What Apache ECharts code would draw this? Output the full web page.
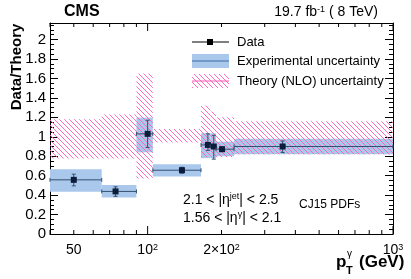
<!DOCTYPE html>
<html><head><meta charset="utf-8">
<script src="https://cdn.jsdelivr.net/npm/echarts@6/dist/echarts.min.js"></script>
<style>html,body{margin:0;padding:0;background:#fff}#c{width:411px;height:279px}</style>
</head><body><div id="c"></div>
<script>
// ---- data ----
const binLow  = [40, 65, 90, 105, 165, 180, 190, 225];
const binHigh = [65, 90, 105, 165, 180, 190, 225, 1000];
const ptX     = [50, 74, 100, 138, 176, 186, 201, 355];
const ratio   = [0.557, 0.438, 1.03, 0.656, 0.916, 0.90, 0.872, 0.90];
const errLow  = [0.495, 0.387, 0.89, 0.626, 0.86, 0.77, 0.85, 0.838];
const errHigh = [0.615, 0.485, 1.17, 0.686, 1.03, 1.015, 0.895, 0.957];
const expLow  = [0.434, 0.376, 0.84, 0.592, 0.78, 0.78, 0.80, 0.82];
const expHigh = [0.667, 0.503, 1.197, 0.718, 1.035, 1.035, 0.95, 0.98];
const thLow   = [0.776, 0.776, 0.57, 0.94, 0.79, 0.79, 0.79, 0.82];
const thHigh  = [1.18, 1.23, 1.65, 1.08, 1.32, 1.26, 1.20, 1.16];
const xTickMajor = [100, 1000];
const xTickMinor = [40, 50, 60, 70, 80, 90, 200, 300, 400, 500, 600, 700, 800, 900];
const xLabelVals = [50, 100, 200, 1000];
const xLabelText = ['50', '10{s|2}', '2×10{s|2}', '10{s|3}'];
const yMin = 0, yMax = 2.17, yStep = 0.2;

// ---- style ----
const FONT = '"Liberation Sans", Arial, Helvetica, sans-serif';
const BLUE = '#aac8ec';
const PINK = '#ff5cb2';
const DARK = '#0c1d3b';
const ELINE = '#33506f';

function hatchCanvas() {
  const c = document.createElement('canvas');
  c.width = 5; c.height = 5;
  const g = c.getContext('2d');
  g.strokeStyle = PINK; g.lineWidth = 0.9;
  g.beginPath();
  g.moveTo(-1, -1); g.lineTo(6, 6);
  g.moveTo(-1, 4); g.lineTo(1, 6);
  g.moveTo(4, -1); g.lineTo(6, 1);
  g.stroke();
  return c;
}
const hatch = hatchCanvas();

const chart = echarts.init(document.getElementById('c'), null, {renderer: 'canvas'});

const bandData = (lo, hi) => binLow.map((l, i) => [l, binHigh[i], lo[i], hi[i]]);

function rectItem(fill) {
  return function (params, api) {
    const a = api.coord([api.value(0), api.value(3)]);
    const b = api.coord([api.value(1), api.value(2)]);
    return {type: 'rect', shape: {x: a[0], y: a[1], width: b[0] - a[0], height: b[1] - a[1]},
      style: {fill: fill}};
  };
}

const yLabelFmt = v => {
  const k = v / yStep;
  return Math.abs(k - Math.round(k)) < 1e-6 ? String(+v.toFixed(2)) : '';
};

const option = {
  animation: false,
  grid: {left: 50, right: 18, top: 23, bottom: 45, show: false},
  xAxis: [
    {type: 'log', logBase: 10, min: 40, max: 1000, position: 'bottom',
     axisLine: {show: true, onZero: false, lineStyle: {color: '#000', width: 1}},
     axisTick: {show: false}, axisLabel: {show: false}, splitLine: {show: false}, minorTick: {show: false}},
    {type: 'log', logBase: 10, min: 40, max: 1000, position: 'top',
     axisLine: {show: true, onZero: false, lineStyle: {color: '#000', width: 1}},
     axisTick: {show: false}, axisLabel: {show: false}, splitLine: {show: false}}
  ],
  yAxis: [
    {type: 'value', min: yMin, max: yMax, interval: yStep, position: 'left',
     axisLine: {show: true, lineStyle: {color: '#000', width: 1}},
     axisTick: {show: true, inside: true, length: 8, lineStyle: {color: '#000'}},
     minorTick: {show: true, splitNumber: 4, length: 4, lineStyle: {color: '#000'}},
     axisLabel: {show: true, margin: 4, color: '#000', fontSize: 15, fontFamily: FONT, formatter: yLabelFmt},
     splitLine: {show: false}},
    {type: 'value', min: yMin, max: yMax, interval: yStep, position: 'right',
     axisLine: {show: true, lineStyle: {color: '#000', width: 1}},
     axisTick: {show: true, inside: true, length: 8, lineStyle: {color: '#000'}},
     minorTick: {show: true, splitNumber: 4, length: 4, lineStyle: {color: '#000'}},
     axisLabel: {show: false}, splitLine: {show: false}}
  ],
  series: [
    {type: 'custom', name: 'exp', xAxisIndex: 0, yAxisIndex: 0, z: 1, silent: true,
     data: bandData(expLow, expHigh), renderItem: rectItem(BLUE)},
    {type: 'custom', name: 'th', xAxisIndex: 0, yAxisIndex: 0, z: 2, silent: true,
     data: bandData(thLow, thHigh), renderItem: rectItem({image: hatch, repeat: 'repeat'})},
    {type: 'custom', name: 'data', xAxisIndex: 0, yAxisIndex: 0, z: 3, silent: true,
     data: ptX.map((x, i) => [x, ratio[i], errLow[i], errHigh[i], binLow[i], binHigh[i]]),
     renderItem: function (params, api) {
       const p = api.coord([api.value(0), api.value(1)]);
       const lo = api.coord([api.value(0), api.value(2)]);
       const hi = api.coord([api.value(0), api.value(3)]);
       const xl = api.coord([api.value(4), api.value(1)]);
       const xh = api.coord([api.value(5), api.value(1)]);
       const ls = {stroke: ELINE, lineWidth: 1};
       return {type: 'group', children: [
         {type: 'line', shape: {x1: xl[0], y1: p[1], x2: xh[0], y2: p[1]}, style: ls},
         {type: 'line', shape: {x1: xl[0], y1: p[1] - 2, x2: xl[0], y2: p[1] + 2}, style: ls},
         {type: 'line', shape: {x1: xh[0], y1: p[1] - 2, x2: xh[0], y2: p[1] + 2}, style: ls},
         {type: 'line', shape: {x1: p[0], y1: lo[1], x2: p[0], y2: hi[1]}, style: ls},
         {type: 'line', shape: {x1: p[0] - 2, y1: lo[1], x2: p[0] + 2, y2: lo[1]}, style: ls},
         {type: 'line', shape: {x1: p[0] - 2, y1: hi[1], x2: p[0] + 2, y2: hi[1]}, style: ls},
         {type: 'rect', shape: {x: p[0] - 3, y: p[1] - 3, width: 6, height: 6}, style: {fill: DARK}}
       ]};
     }},
    {type: 'custom', name: 'xticks', xAxisIndex: 0, yAxisIndex: 0, z: 4, silent: true,
     data: xTickMajor.map(v => [v, 8]).concat(xTickMinor.map(v => [v, 4])),
     renderItem: function (params, api) {
       const b = api.coord([api.value(0), yMin]);
       const t = api.coord([api.value(0), yMax]);
       const L = api.value(1);
       const ls = {stroke: '#000', lineWidth: 1};
       return {type: 'group', children: [
         {type: 'line', shape: {x1: b[0], y1: b[1], x2: b[0], y2: b[1] - L}, style: ls},
         {type: 'line', shape: {x1: t[0], y1: t[1], x2: t[0], y2: t[1] + L}, style: ls}
       ]};
     }},
    {type: 'custom', name: 'xlabels', xAxisIndex: 0, yAxisIndex: 0, z: 4, silent: true, clip: false,
     data: xLabelVals.map((v, i) => [v, i]),
     renderItem: function (params, api) {
       const b = api.coord([api.value(0), yMin]);
       return {type: 'text', x: b[0], y: b[1] + 9,
         style: {text: xLabelText[api.value(1)], align: 'center', verticalAlign: 'top',
           fontSize: 14, fontFamily: FONT, fill: '#000',
           rich: {s: {fontSize: 9, fontFamily: FONT, verticalAlign: 'top', lineHeight: 9, padding: [0, 0, 6, 0]}}}};
     }}
  ],
  graphic: [
    {type: 'text', left: 64, top: 4, style: {text: 'CMS', fontSize: 16, fontWeight: 'bold', fontFamily: FONT, fill: '#000'}},
    {type: 'text', right: 33, top: 5, style: {text: '19.7 fb{s|-1} ( 8 TeV)', fontSize: 14, fontFamily: FONT, fill: '#000',
      rich: {s: {fontSize: 9, fontFamily: FONT, verticalAlign: 'top', padding: [0, 0, 6, 0]}}}},
    {type: 'text', x: 17, y: 67, rotation: Math.PI / 2, style: {text: 'Data/Theory', fontSize: 15, fontWeight: 'bold',
      fontFamily: FONT, fill: '#000', align: 'center', verticalAlign: 'middle'}},
    // x title
    {type: 'text', x: 336, y: 262, style: {text: 'p', fontSize: 17, fontWeight: 'bold', fontFamily: FONT, fill: '#000', verticalAlign: 'middle'}},
    {type: 'text', x: 347, y: 254, style: {text: 'γ', fontSize: 10, fontFamily: FONT, fill: '#000', verticalAlign: 'middle'}},
    {type: 'text', x: 346, y: 271, style: {text: 'T', fontSize: 11, fontWeight: 'bold', fontFamily: FONT, fill: '#000', verticalAlign: 'middle'}},
    {type: 'text', x: 359, y: 262, style: {text: '(GeV)', fontSize: 17, fontWeight: 'bold', fontFamily: FONT, fill: '#000', verticalAlign: 'middle'}},
    // legend
    {type: 'line', shape: {x1: 192, y1: 42, x2: 229, y2: 42}, style: {stroke: '#000', lineWidth: 1}},
    {type: 'rect', shape: {x: 207, y: 39, width: 6, height: 6}, style: {fill: '#000'}},
    {type: 'text', x: 237, y: 42, style: {text: 'Data', fontSize: 13, fontFamily: FONT, fill: '#000', verticalAlign: 'middle'}},
    {type: 'rect', shape: {x: 192, y: 54, width: 37, height: 14}, style: {fill: BLUE}},
    {type: 'line', shape: {x1: 192, y1: 61, x2: 229, y2: 61}, style: {stroke: '#3c6aa6', lineWidth: 1}},
    {type: 'text', x: 237, y: 61, style: {text: 'Experimental uncertainty', fontSize: 13, fontFamily: FONT, fill: '#000', verticalAlign: 'middle'}},
    {type: 'rect', shape: {x: 192, y: 74, width: 37, height: 14}, style: {fill: {image: hatch, repeat: 'repeat'}}},
    {type: 'line', shape: {x1: 192, y1: 81, x2: 229, y2: 81}, style: {stroke: PINK, lineWidth: 1}},
    {type: 'text', x: 237, y: 81, style: {text: 'Theory (NLO) uncertainty', fontSize: 13, fontFamily: FONT, fill: '#000', verticalAlign: 'middle'}},
    // annotations
    {type: 'text', x: 183, y: 200, style: {text: '2.1 < |η{s|jet}| < 2.5', fontSize: 14, fontFamily: FONT, fill: '#000', verticalAlign: 'middle',
      rich: {s: {fontSize: 9, fontFamily: FONT, verticalAlign: 'top', padding: [0, 0, 6, 0]}}}},
    {type: 'text', x: 183, y: 218, style: {text: '1.56 < |η{s|γ}| < 2.1', fontSize: 14, fontFamily: FONT, fill: '#000', verticalAlign: 'middle',
      rich: {s: {fontSize: 9, fontFamily: FONT, verticalAlign: 'top', padding: [0, 0, 6, 0]}}}},
    {type: 'text', x: 299, y: 205, style: {text: 'CJ15 PDFs', fontSize: 12, fontFamily: FONT, fill: '#000', verticalAlign: 'middle'}}
  ]
};
chart.setOption(option);
</script>
</body></html>
